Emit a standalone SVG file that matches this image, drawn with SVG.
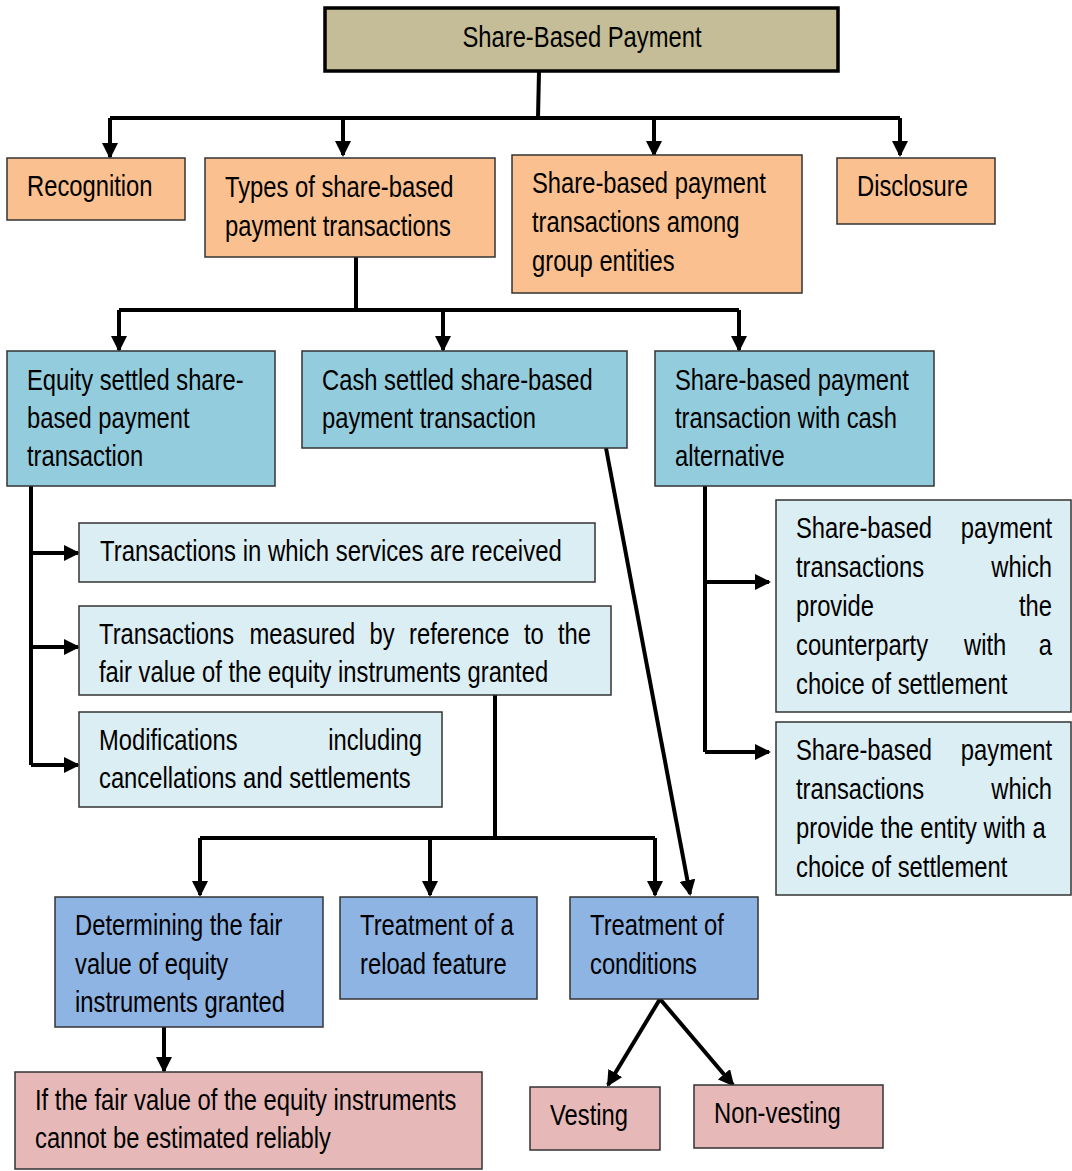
<svg xmlns="http://www.w3.org/2000/svg" width="1072" height="1171" viewBox="0 0 1072 1171">
<defs>
<marker id="ah" markerUnits="userSpaceOnUse" markerWidth="16" markerHeight="16" refX="14" refY="8" orient="auto">
<path d="M0,0 L16,8 L0,16 Z" fill="#000"/>
</marker>
<style>
text{font-family:"Liberation Sans",Arial,sans-serif;font-size:29px;fill:#000}
.e{text-anchor:end}.m{text-anchor:middle}
.b{stroke:#333;stroke-width:1.5}
.or{fill:#FAC090}.tl{fill:#93CDDD}.lt{fill:#DBEEF3}.bl{fill:#8EB4E3}.pk{fill:#E6B9B8}
.c{fill:none;stroke:#000;stroke-width:4;stroke-linejoin:miter}
.a{marker-end:url(#ah)}
</style>
</defs>
<rect width="1072" height="1171" fill="#fff"/>
<g id="connectors">
<path class="c" d="M539,71 L538,118"/>
<path class="c" d="M110,118 L900,118"/>
<path class="c a" d="M110,118 L110,157"/>
<path class="c a" d="M343,118 L343,155"/>
<path class="c a" d="M654,118 L654,155"/>
<path class="c a" d="M900,118 L900,155"/>
<path class="c" d="M356,257 L356,310"/>
<path class="c" d="M119,310 L739,310"/>
<path class="c a" d="M119,310 L119,350"/>
<path class="c a" d="M443,310 L443,350"/>
<path class="c a" d="M739,310 L739,350"/>
<path class="c" d="M31,486 L31,765"/>
<path class="c a" d="M31,553 L78,553"/>
<path class="c a" d="M31,647 L78,647"/>
<path class="c a" d="M31,765 L78,765"/>
<path class="c" d="M705,486 L705,752"/>
<path class="c a" d="M705,582 L769,582"/>
<path class="c a" d="M705,752 L769,752"/>
<path class="c" d="M495,695 L495,838"/>
<path class="c" d="M200,838 L655,838"/>
<path class="c a" d="M200,838 L200,895"/>
<path class="c a" d="M430,838 L430,895"/>
<path class="c a" d="M655,838 L655,895"/>
<path class="c a" d="M606,448 L690,894"/>
<path class="c a" d="M164,1027 L164,1071"/>
<path class="c a" d="M660,999 L608,1085"/>
<path class="c a" d="M660,999 L733,1085"/>
</g>
<g id="root">
<rect x="325" y="8" width="513" height="63" fill="#C4BD97" stroke="#000" stroke-width="3.5"/>
<text class="m" transform="translate(582 47) scale(.82 1)">Share-Based Payment</text>
</g>
<g id="recognition">
<rect class="b or" x="7" y="158" width="178" height="62"/>
<text transform="translate(27 196) scale(.82 1)">Recognition</text>
</g>
<g id="types">
<rect class="b or" x="205" y="158" width="290" height="99"/>
<text transform="translate(225 197) scale(.82 1)">Types of share-based</text>
<text transform="translate(225 236) scale(.82 1)">payment transactions</text>
</g>
<g id="group">
<rect class="b or" x="512" y="155" width="290" height="138"/>
<text transform="translate(532 193) scale(.82 1)">Share-based payment</text>
<text transform="translate(532 232) scale(.82 1)">transactions among</text>
<text transform="translate(532 271) scale(.82 1)">group entities</text>
</g>
<g id="disclosure">
<rect class="b or" x="837" y="158" width="158" height="66"/>
<text transform="translate(857 196) scale(.82 1)">Disclosure</text>
</g>
<g id="equity">
<rect class="b tl" x="7" y="351" width="268" height="135"/>
<text transform="translate(27 390) scale(.82 1)">Equity settled share-</text>
<text transform="translate(27 428) scale(.82 1)">based payment</text>
<text transform="translate(27 466) scale(.82 1)">transaction</text>
</g>
<g id="cash">
<rect class="b tl" x="302" y="351" width="325" height="97"/>
<text transform="translate(322 390) scale(.82 1)">Cash settled share-based</text>
<text transform="translate(322 428) scale(.82 1)">payment transaction</text>
</g>
<g id="cashalt">
<rect class="b tl" x="655" y="351" width="279" height="135"/>
<text transform="translate(675 390) scale(.82 1)">Share-based payment</text>
<text transform="translate(675 428) scale(.82 1)">transaction with cash</text>
<text transform="translate(675 466) scale(.82 1)">alternative</text>
</g>
<g id="services">
<rect class="b lt" x="79" y="523" width="516" height="59"/>
<text transform="translate(100 561) scale(.825 1)">Transactions in which services are received</text>
</g>
<g id="measured">
<rect class="b lt" x="79" y="606" width="532" height="89"/>
<text transform="translate(99 644) scale(.82 1)">Transactions</text>
<text transform="translate(249.5 644) scale(.82 1)">measured</text>
<text transform="translate(369.6 644) scale(.82 1)">by</text>
<text transform="translate(409.1 644) scale(.82 1)">reference</text>
<text transform="translate(523.9 644) scale(.82 1)">to</text>
<text class="e" transform="translate(591 644) scale(.82 1)">the</text>
<text transform="translate(99 682) scale(.82 1)">fair value of the equity instruments granted</text>
</g>
<g id="modifications">
<rect class="b lt" x="79" y="712" width="363" height="95"/>
<text transform="translate(99 750) scale(.82 1)">Modifications</text>
<text class="e" transform="translate(422 750) scale(.82 1)">including</text>
<text transform="translate(99 788) scale(.82 1)">cancellations and settlements</text>
</g>
<g id="counterparty">
<rect class="b lt" x="776" y="500" width="295" height="212"/>
<text transform="translate(796 538) scale(.82 1)">Share-based</text>
<text class="e" transform="translate(1052 538) scale(.82 1)">payment</text>
<text transform="translate(796 577) scale(.82 1)">transactions</text>
<text class="e" transform="translate(1052 577) scale(.82 1)">which</text>
<text transform="translate(796 616) scale(.82 1)">provide</text>
<text class="e" transform="translate(1052 616) scale(.82 1)">the</text>
<text transform="translate(796 655) scale(.82 1)">counterparty</text>
<text transform="translate(964 655) scale(.82 1)">with</text>
<text class="e" transform="translate(1052 655) scale(.82 1)">a</text>
<text transform="translate(796 694) scale(.82 1)">choice of settlement</text>
</g>
<g id="entity">
<rect class="b lt" x="776" y="722" width="295" height="173"/>
<text transform="translate(796 760) scale(.82 1)">Share-based</text>
<text class="e" transform="translate(1052 760) scale(.82 1)">payment</text>
<text transform="translate(796 799) scale(.82 1)">transactions</text>
<text class="e" transform="translate(1052 799) scale(.82 1)">which</text>
<text transform="translate(796 838) scale(.82 1)">provide the entity with a</text>
<text transform="translate(796 877) scale(.82 1)">choice of settlement</text>
</g>
<g id="determining">
<rect class="b bl" x="55" y="897" width="268" height="130"/>
<text transform="translate(75 935) scale(.82 1)">Determining the fair</text>
<text transform="translate(75 974) scale(.82 1)">value of equity</text>
<text transform="translate(75 1012) scale(.82 1)">instruments granted</text>
</g>
<g id="reload">
<rect class="b bl" x="340" y="897" width="197" height="102"/>
<text transform="translate(360 935) scale(.82 1)">Treatment of a</text>
<text transform="translate(360 974) scale(.82 1)">reload feature</text>
</g>
<g id="conditions">
<rect class="b bl" x="570" y="897" width="188" height="102"/>
<text transform="translate(590 935) scale(.82 1)">Treatment of</text>
<text transform="translate(590 974) scale(.82 1)">conditions</text>
</g>
<g id="reliably">
<rect class="b pk" x="15" y="1072" width="467" height="97"/>
<text transform="translate(35 1110) scale(.82 1)">If the fair value of the equity instruments</text>
<text transform="translate(35 1148) scale(.82 1)">cannot be estimated reliably</text>
</g>
<g id="vesting">
<rect class="b pk" x="530" y="1087" width="130" height="63"/>
<text transform="translate(550 1125) scale(.82 1)">Vesting</text>
</g>
<g id="nonvesting">
<rect class="b pk" x="694" y="1085" width="189" height="63"/>
<text transform="translate(714 1123) scale(.82 1)">Non-vesting</text>
</g>
</svg>
